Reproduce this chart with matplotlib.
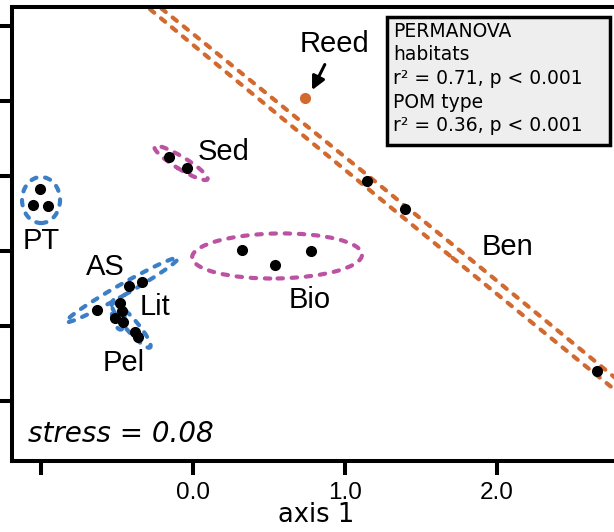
import matplotlib
matplotlib.use("Agg")
from matplotlib import pyplot as plt
from matplotlib.patches import Ellipse, Rectangle
import numpy as np

# NMDS scores (axis 1, axis 2) per habitat
pt_x = [-1.007, -1.053, -0.954]
pt_y = [0.413, 0.307, 0.300]
sed_x = [-0.158, -0.039]
sed_y = [0.627, 0.553]
bio_x = [0.322, 0.539, 0.776]
bio_y = [0.007, -0.093, 0.0]
ben_x = [1.145, 1.395, 2.658]
ben_y = [0.467, 0.280, -0.800]
as_x = [-0.632, -0.421, -0.336]
as_y = [-0.393, -0.233, -0.207]
lit_x = [-0.480, -0.513, -0.467]
lit_y = [-0.347, -0.447, -0.40]
pel_x = [-0.461, -0.382, -0.362]
pel_y = [-0.473, -0.540, -0.573]
reed_x = [0.737]
reed_y = [1.02]

# group ellipses: centre x, centre y, width, height, angle
ell_pt = (-1.0, 0.34, 0.25, 0.307, 0)
ell_sed = (-0.079, 0.587, 0.41, 0.08, -32)
ell_bio = (0.553, -0.033, 1.118, 0.30, 1)
ell_ben = (1.73, -0.02, 7.9, 0.068, -39.6)
ell_as = (-0.467, -0.26, 0.85, 0.073, 30)
ell_lit = (-0.493, -0.42, 0.21, 0.08, -80)
ell_pel = (-0.408, -0.493, 0.39, 0.08, -50)

xticks = [-1.0, 0.0, 1.0, 2.0]
xticklabels = ["", "0.0", "1.0", "2.0"]
yticks = [-1.0, -0.5, 0.0, 0.5, 1.0, 1.5]

orange = "#d2692f"
magenta = "#bb52a2"
blue = "#3d7fc6"

W, H = 614, 532
fig = plt.figure(figsize=(6.14, 5.32), dpi=100)
ax = fig.add_axes([12 / W, (H - 461) / H, (620 - 12) / W, (461 - 7) / H])
ax.set_xlim(-1.191, 2.809)
ax.set_ylim(-1.4, 1.627)

for e, c in [(ell_pt, blue), (ell_as, blue), (ell_lit, blue), (ell_pel, blue),
             (ell_sed, magenta), (ell_bio, magenta), (ell_ben, orange)]:
    p = Ellipse((e[0], e[1]), e[2], e[3], angle=e[4], fill=False,
                ec=c, lw=3.0, linestyle=(0, (1.3, 2.1)), capstyle="round")
    ax.add_patch(p)

for xs, ys in [(pt_x, pt_y), (sed_x, sed_y), (bio_x, bio_y), (ben_x, ben_y),
               (as_x, as_y), (lit_x, lit_y), (pel_x, pel_y)]:
    ax.plot(xs, ys, "o", color="black", ms=7, zorder=5)
ax.plot(reed_x, reed_y, "o", color=orange, ms=7, zorder=5)

lab = dict(fontsize=21, family="Liberation Sans", ha="center", va="center")
ax.text(-0.079 + 0.28, 0.66, "Sed", **lab)
ax.text(-1.0, 0.067, "PT", **lab)
ax.text(-0.575, -0.107, "AS", **lab)
ax.text(-0.25, -0.373, "Lit", **lab)
ax.text(-0.454, -0.747, "Pel", **lab)
ax.text(0.770, -0.327, "Bio", **lab)
ax.text(2.072, 0.027, "Ben", **lab)
ax.annotate("Reed", xy=(0.783, 1.073), xytext=(0.934, 1.38),
            arrowprops=dict(arrowstyle="-|>", color="black", lw=2.2,
                            mutation_scale=20, shrinkA=3, shrinkB=0),
            **lab)

ax.text(-1.085, -1.22, "stress = 0.08", fontsize=20, style="italic",
        family="DejaVu Sans", ha="left", va="center")

box = Rectangle((387 / W, 1 - 145 / H), (610 - 387) / W, (145 - 17) / H,
                transform=fig.transFigure, fc="#eeeeee", ec="black", lw=2.5,
                zorder=10)
fig.add_artist(box)
fig.text(393 / W, 1 - 22 / H,
         "PERMANOVA\nhabitats\nr\u00b2 = 0.71, p < 0.001\nPOM type\nr\u00b2 = 0.36, p < 0.001",
         fontsize=13.5, family="DejaVu Sans", ha="left", va="top", zorder=11,
         linespacing=1.3)

ax.set_xticks(xticks)
ax.set_xticklabels(xticklabels, fontsize=17.5, family="Liberation Sans")
ax.set_yticks(yticks)
ax.set_yticklabels([])
ax.tick_params(direction="out", length=10, width=2.9, pad=5)
for s in ["left", "bottom", "top"]:
    ax.spines[s].set_linewidth(2.9)
ax.spines["right"].set_visible(False)
ax.set_xlabel("axis 1", fontsize=18.5, family="DejaVu Sans", labelpad=-1)

fig.savefig("out.png", dpi=100)
